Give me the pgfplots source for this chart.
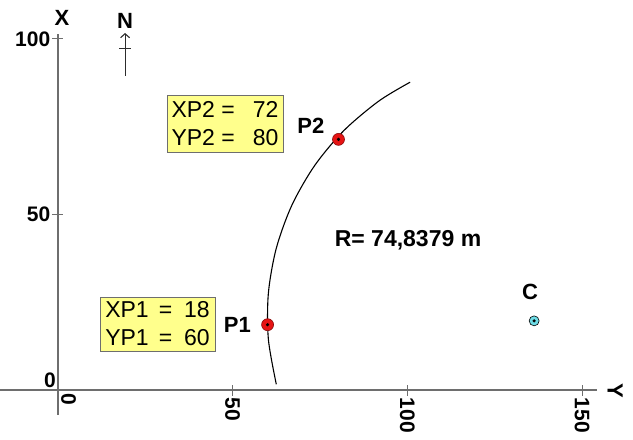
\documentclass[border=0pt]{standalone}
\usepackage{pgfplots}
\pgfplotsset{compat=1.18}
\usepackage{fontspec}
\setmainfont{Liberation Sans}
\usetikzlibrary{arrows.meta}

\definecolor{boxyellow}{RGB}{255,255,140}
\definecolor{axisgray}{RGB}{110,110,110}
\definecolor{ptred}{RGB}{230,20,20}
\definecolor{ptcyan}{RGB}{110,220,230}

\newcommand{\tickfont}{\fontsize{21bp}{23bp}\selectfont\bfseries}
\newcommand{\lblfont}{\fontsize{22bp}{24bp}\selectfont\bfseries}
\newcommand{\boxfont}{\fontsize{23bp}{28bp}\selectfont}

\begin{document}
\begin{tikzpicture}
\begin{axis}[
  x=3.493bp, y=3.51bp,
  xmin=-16.6, xmax=164.6,
  ymin=-13.96, ymax=111.1,
  axis lines=middle,
  axis line style={draw=none},
  clip=false,
  hide obscured x ticks=false,
  hide obscured y ticks=false,
  xtick={50,100,150},
  ytick={50,100},
  tick align=center,
  major tick length=11bp,
  tick style={axisgray, line width=1bp},
  /pgf/number format/assume math mode=true,
  xticklabel style={font=\tickfont, rotate=-90, anchor=west, inner sep=2bp},
  yticklabel style={font=\tickfont, anchor=east, inner sep=2bp},
  extra x ticks={0},
  extra x tick style={major tick length=0pt, xticklabel style={anchor=south west, inner sep=3bp}},
  extra y ticks={0},
  extra y tick style={major tick length=0pt, yticklabel style={anchor=south east}},
]
% axis lines
\draw[axisgray, line width=1.3bp] (axis cs:-16.6,0) -- (axis cs:154.3,0);
\draw[axisgray, line width=1.3bp] (axis cs:0,-7.1) -- (axis cs:0,101.3);

% circular arc through P1 and P2
\addplot[black, line width=1.1bp, smooth] coordinates {
(100.80,87.69) (91.85,82.32) (81.86,73.93) (73.47,63.94) (66.95,52.64)
(62.49,40.38) (60.22,27.54) (60.22,14.48) (62.49,1.64)
};

% points P1, P2
\addplot[only marks, mark=*, mark size=6bp,
  mark options={fill=ptred, draw=ptred!60!black, line width=0.6bp}]
  coordinates {(60,18.6) (80.3,71.4)};
\addplot[only marks, mark=*, mark size=1.4bp, black]
  coordinates {(60,18.6) (80.3,71.4)};
% centre C
\addplot[only marks, mark=*, mark size=5bp,
  mark options={fill=ptcyan, draw=black, line width=0.6bp}]
  coordinates {(136.3,19.7)};
\addplot[only marks, mark=*, mark size=1.4bp, black]
  coordinates {(136.3,19.7)};

% labels
\node[font=\lblfont] at (axis cs:1.15,106) {X};
\node[font=\lblfont, rotate=-90] at (axis cs:159.5,-0.3) {Y};
\node[font=\lblfont] at (axis cs:19.2,105.1) {N};
\draw[axisgray!40!black, line width=1.1bp, -{Straight Barb[length=4bp,width=9bp]}]
  (axis cs:19.2,89.5) -- (axis cs:19.2,101.7);
\draw[axisgray!40!black, line width=0.9bp] (axis cs:17.6,97.4) -- (axis cs:20.8,97.4);

\node[font=\lblfont, anchor=east] at (axis cs:56.2,18.5) {P1};
\node[font=\lblfont] at (axis cs:72.4,75.2) {P2};
\node[font=\lblfont] at (axis cs:135.1,27.9) {C};
\node[font=\fontsize{23bp}{26bp}\selectfont\bfseries] at (axis cs:100.2,42.7) {R= 74,8379 m};

% coordinate boxes
\node[draw=axisgray, fill=boxyellow, line width=0.8bp, minimum width=116bp,
  minimum height=57bp, inner sep=0pt, font=\boxfont, align=left]
  at (axis cs:47.8,75.9) {XP2 =\hspace{18bp}72\\YP2 =\hspace{18bp}80};
\node[draw=axisgray, fill=boxyellow, line width=0.8bp, minimum width=115bp,
  minimum height=54bp, inner sep=0pt, font=\boxfont, align=left]
  at (axis cs:28.5,18.8) {XP1\hspace{10bp}=\hspace{12bp}18\\YP1\hspace{10bp}=\hspace{12bp}60};
\end{axis}
\pgfresetboundingbox
\useasboundingbox (current axis.south west) rectangle (current axis.north east);
\end{tikzpicture}
\end{document}
